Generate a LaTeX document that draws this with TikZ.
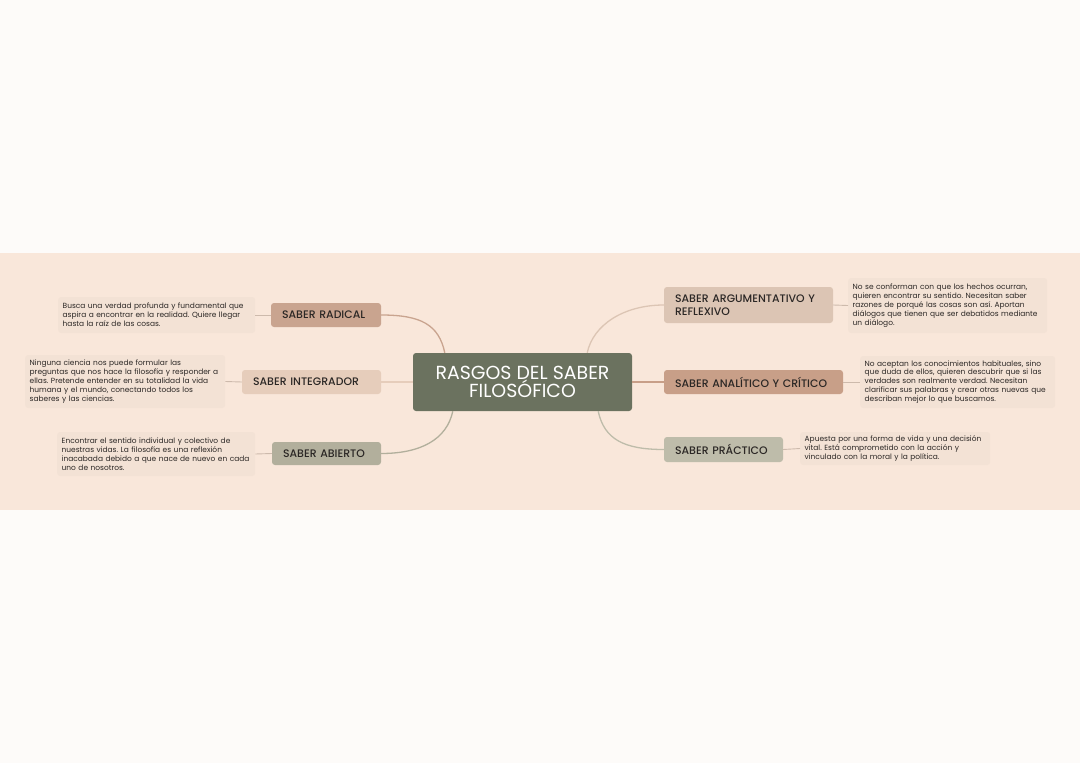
\documentclass[tikz,border=0pt]{standalone}
\usepackage{fontspec}
\setmainfont{Poppins}
\newfontfamily\medfont{Poppins Medium}
\usetikzlibrary{calc}
\definecolor{pagebg}{HTML}{FDFBF9}
\definecolor{band}{HTML}{F9E7DA}
\definecolor{descbg}{HTML}{F3E2D5}
\definecolor{central}{HTML}{6B725F}
\definecolor{cRad}{HTML}{C9A48F}
\definecolor{cInt}{HTML}{E6CDBB}
\definecolor{cAbi}{HTML}{B2AF9C}
\definecolor{cArg}{HTML}{DCC5B4}
\definecolor{cAna}{HTML}{C89F88}
\definecolor{cPra}{HTML}{BEBCAA}
\definecolor{txt}{HTML}{2B2725}
\definecolor{lnk}{HTML}{CDBAAC}
\tikzset{
  topic/.style={rounded corners=3pt, inner xsep=11pt, inner ysep=0pt, text=txt,
    align=left, font=\medfont\fontsize{10.9}{13.4}\selectfont},
  descbox/.style={fill=descbg, rounded corners=3pt, inner xsep=4.5pt, inner ysep=0pt,
    align=left, text=txt, anchor=west, font=\fontsize{7.45}{8.9}\selectfont},
  branch/.style={line width=1.3pt},
  leaf/.style={line width=0.9pt, draw=lnk}
}
\begin{document}
\frenchspacing
\begin{tikzpicture}[x=1pt,y=-1pt]
\useasboundingbox (0,0) rectangle (1080,763);
\fill[pagebg] (0,0) rectangle (1080,763);
\fill[band] (0,253) rectangle (1080,510);

% central
\node[fill=central, rounded corners=3pt, minimum width=219pt, minimum height=58pt,
  text=white, align=center, font=\fontsize{18.9}{18.5}\selectfont, inner sep=0pt]
  (cen) at (522.5,382) {RASGOS DEL SABER\\FILOSÓFICO};

% left topics
\node[topic, fill=cRad, text width=88pt, minimum height=24pt] (rad) at (326,315) {SABER RADICAL};
\node[topic, fill=cInt, text width=117pt, minimum height=24pt] (int) at (311.5,382) {SABER INTEGRADOR};
\node[topic, fill=cAbi, text width=87pt, minimum height=23pt] (abi) at (326.5,453.5) {SABER ABIERTO};

% right topics
\node[topic, fill=cArg, text width=147pt, minimum height=36pt]
  (arg) at (748.5,305) {SABER ARGUMENTATIVO Y\\REFLEXIVO};
\node[topic, fill=cAna, text width=157pt, minimum height=24pt] (ana) at (753.5,382) {SABER ANALÍTICO Y CRÍTICO};
\node[topic, fill=cPra, text width=97pt, minimum height=25pt] (pra) at (723.5,449.5) {SABER PRÁCTICO};

% descriptions
\node[descbox, minimum height=36pt, text width=188pt] (d1) at (58,315)
  {Busca una verdad profunda y fundamental que\\aspira a encontrar en la realidad. Quiere llegar\\hasta la raíz de las cosas.};
\node[descbox, minimum height=53pt, text width=191pt] (d2) at (25,381.5)
  {Ninguna ciencia nos puede formular las\\preguntas que nos hace la filosofía y responder a\\ellas. Pretende entender en su totalidad la vida\\humana y el mundo, conectando todos los\\saberes y las ciencias.};
\node[descbox, minimum height=44pt, text width=189pt] (d3) at (57,454)
  {Encontrar el sentido individual y colectivo de\\nuestras vidas. La filosofía es una reflexión\\inacabada debido a que nace de nuevo en cada\\uno de nosotros.};
\node[descbox, minimum height=55pt, text width=190pt] (d4) at (848,305.5)
  {No se conforman con que los hechos ocurran,\\quieren encontrar su sentido. Necesitan saber\\razones de porqué las cosas son así. Aportan\\diálogos que tienen que ser debatidos mediante\\un diálogo.};
\node[descbox, minimum height=52pt, text width=186pt] (d5) at (860,382)
  {No aceptan los conocimientos habituales, sino\\que duda de ellos, quieren descubrir que si las\\verdades son realmente verdad. Necesitan\\clarificar sus palabras y crear otras nuevas que\\describan mejor lo que buscamos.};
\node[descbox, minimum height=33pt, text width=181pt] (d6) at (800,448.5)
  {Apuesta por una forma de vida y una decisión\\vital. Está comprometido con la acción y\\vinculado con la moral y la política.};

% branches
\coordinate (sRad) at ($(cen.north west)+(32,0)$);
\coordinate (sAbi) at ($(cen.south west)+(40,0)$);
\coordinate (sArg) at ($(cen.north east)+(-45,0)$);
\coordinate (sPra) at ($(cen.south east)+(-34,0)$);
\draw[branch, draw=cRad] (sRad) .. controls +(-6,-28) and +(40,0) .. (rad.east);
\draw[branch, draw=cInt] (cen.west) -- (int.east);
\draw[branch, draw=cAbi] (sAbi) .. controls +(-6,28) and +(40,0) .. (abi.east);
\draw[branch, draw=cArg] (sArg) .. controls +(6,-28) and +(-40,0) .. (arg.west);
\draw[branch, draw=cAna] (cen.east) -- (ana.west);
\draw[branch, draw=cPra] (sPra) .. controls +(6,28) and +(-40,0) .. (pra.west);

% leaves
\draw[leaf] (d1.east) -- (rad.west);
\draw[leaf] (d2.east) -- (int.west);
\draw[leaf] (d3.east) -- (abi.west);
\draw[leaf] (arg.east) -- (d4.west);
\draw[leaf] (ana.east) -- (d5.west);
\draw[leaf] (pra.east) -- (d6.west);
\end{tikzpicture}
\end{document}
